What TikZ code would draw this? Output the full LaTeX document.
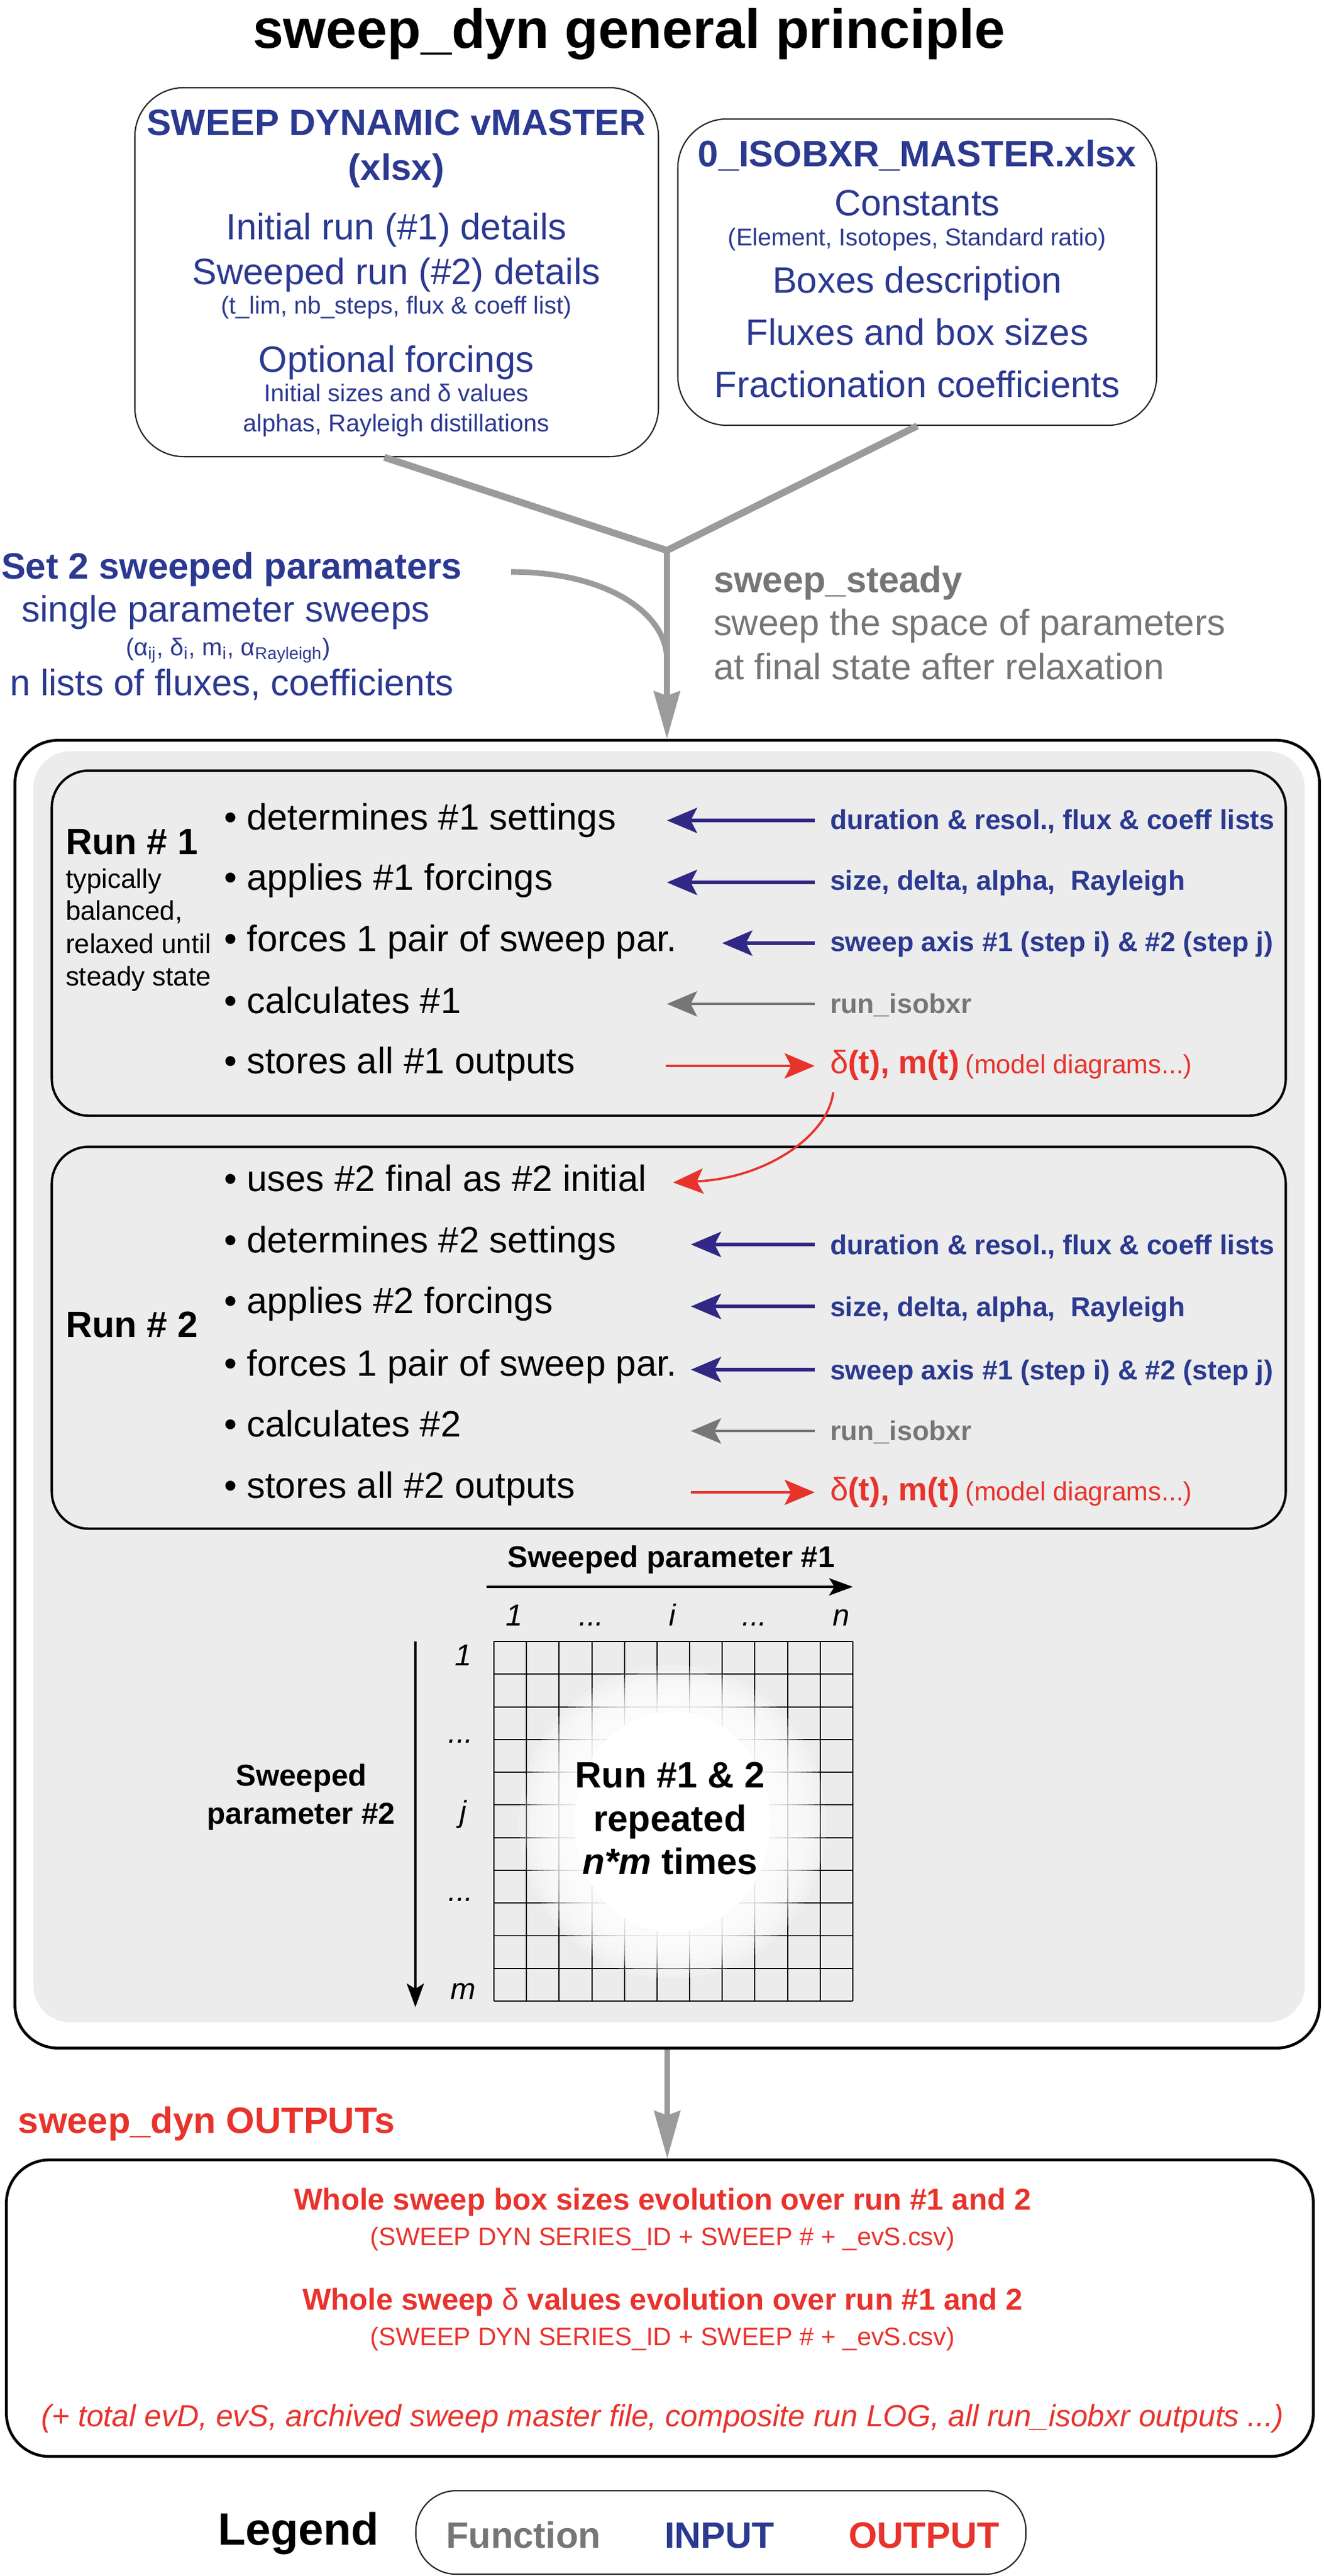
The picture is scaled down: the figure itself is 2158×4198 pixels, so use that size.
\documentclass[tikz,border=0pt]{standalone}
\usepackage{fontspec}
\setmainfont{Liberation Sans}
\usetikzlibrary{arrows.meta}
\definecolor{myblue}{RGB}{43,57,144}
\definecolor{arrblue}{RGB}{48,40,132}
\definecolor{myred}{RGB}{232,51,45}
\definecolor{fngray}{RGB}{118,118,118}
\definecolor{lngray}{RGB}{155,155,155}
\definecolor{bggray}{RGB}{236,236,236}
\newcommand\FTitle{\bfseries\fontsize{25.5}{30}\selectfont}
\newcommand\FBig{\fontsize{17}{20}\selectfont}
\newcommand\FBigB{\bfseries\fontsize{17}{20}\selectfont}
\newcommand\FSml{\fontsize{11.3}{13}\selectfont}
\newcommand\FLab{\bfseries\fontsize{12.7}{15}\selectfont}
\newcommand\FSide{\fontsize{12.5}{15}\selectfont}
\newcommand\FAxis{\bfseries\fontsize{14}{17}\selectfont}
\newcommand\FIdx{\itshape\fontsize{14}{17}\selectfont}
\newcommand\FOutB{\bfseries\fontsize{14}{17}\selectfont}
\newcommand\FOutS{\fontsize{11.8}{14}\selectfont}
\newcommand\FOutI{\itshape\fontsize{14.2}{17}\selectfont}
\newcommand\FLeg{\bfseries\fontsize{21}{25}\selectfont}
\newcommand\FDmt{\bfseries\fontsize{15}{18}\selectfont}
\newcommand\FMod{\fontsize{12.2}{15}\selectfont}
\begin{document}
\begin{tikzpicture}[x=0.01cm, y=-0.01cm,
  tx/.style={inner sep=0pt, outer sep=0pt, anchor=base},
  tw/.style={inner sep=0pt, outer sep=0pt, anchor=base west},
  inbox/.style={draw=black!85, line width=0.6pt, fill=white, rounded corners=0.8cm, inner sep=0pt},
  runbox/.style={draw=black, line width=1.1pt, rounded corners=0.6cm, inner sep=0pt},
  bigbox/.style={draw=black, line width=1.3pt, fill=white, rounded corners=0.7cm, inner sep=0pt},
  feed/.style={draw=lngray, line width=3.2pt},
  stem/.style={draw=lngray, line width=2.6pt},
  bigtip/.style={-{Stealth[length=22pt, width=12pt, inset=2pt]}},
  inarr/.style={draw=arrblue, line width=1.5pt, -{Stealth[length=14pt, width=11.7pt, inset=3pt]}},
  fnarr/.style={draw=fngray, line width=1.2pt, -{Stealth[length=14pt, width=11.7pt, inset=3pt]}},
  outarr/.style={draw=myred, line width=1.05pt, -{Stealth[length=14pt, width=11.7pt, inset=3pt]}},
  axarr/.style={draw=black, line width=0.9pt, -{Stealth[length=11pt, width=8pt, inset=2.5pt]}},
  gridl/.style={draw=black, line width=0.55pt},
]
\useasboundingbox (0,0) rectangle (2158,4198);
\fill[white] (0,0) rectangle (2158,4198);

% ---------- title
\node[tx, font=\FTitle] (title) at (1025,78) {sweep\_dyn general principle};

% ---------- input files
\node[inbox, minimum width=8.53cm, minimum height=6.01cm] (master) at (646.5,443.5) {};
\node[inbox, minimum width=7.8cm, minimum height=4.99cm] (iso) at (1495,443.5) {};

\node[tx, font=\FBigB, text=myblue] (m1) at (646,220) {SWEEP DYNAMIC vMASTER};
\node[tx, font=\FBigB, text=myblue] (m2) at (646,293) {(xlsx)};
\node[tx, font=\FBig, text=myblue] (m3) at (646,390) {Initial run (\#1) details};
\node[tx, font=\FBig, text=myblue] (m4) at (646,463) {Sweeped run (\#2) details};
\node[tx, font=\FSml, text=myblue] (m5) at (646,511) {(t\_lim, nb\_steps, flux \& coeff list)};
\node[tx, font=\FBig, text=myblue] (m6) at (646,606) {Optional forcings};
\node[tx, font=\FSml, text=myblue] (m7) at (646,654) {Initial sizes and δ values};
\node[tx, font=\FSml, text=myblue] (m8) at (646,703) {alphas, Rayleigh distillations};

\node[tx, font=\FBigB, text=myblue] (i1) at (1495,271) {0\_ISOBXR\_MASTER.xlsx};
\node[tx, font=\FBig, text=myblue] (i2) at (1495,351) {Constants};
\node[tx, font=\FSml, text=myblue] (i3) at (1495,400) {(Element, Isotopes, Standard ratio)};
\node[tx, font=\FBig, text=myblue] (i4) at (1495,477) {Boxes description};
\node[tx, font=\FBig, text=myblue] (i5) at (1495,562) {Fluxes and box sizes};
\node[tx, font=\FBig, text=myblue] (i6) at (1495,647) {Fractionation coefficients};

\coordinate (junc) at (1087,897);
\draw[feed] ([xshift=-0.2cm]master.south) -- (junc);
\draw[feed] (iso.south) -- (junc);

% ---------- sweep parameters
\node[tw, font=\FBigB, text=myblue] (set2) at (2,943) {Set 2 sweeped paramaters};
\node[tx, font=\FBig, text=myblue] (s2a) at (368,1013) {single parameter sweeps};
\node[tx, font=\FSml, text=myblue] (s2b) at (372,1068) {(α\textsubscript{ij}, δ\textsubscript{i}, m\textsubscript{i}, α\textsubscript{Rayleigh})};
\node[tx, font=\FBig, text=myblue] (s2c) at (378,1133) {n lists of fluxes, coefficients};

\node[tw, font=\FBigB, text=fngray] (ss1) at (1163,965) {sweep\_steady};
\node[tw, font=\FBig, text=fngray] (ss2) at (1163,1035) {sweep the space of parameters};
\node[tw, font=\FBig, text=fngray] (ss3) at (1163,1107) {at final state after relaxation};

% ---------- main box
\node[bigbox, minimum width=21.25cm, minimum height=21.3cm] (outer) at (1087.5,2272) {};
\node[fill=bggray, rounded corners=0.6cm, inner sep=0pt, minimum width=20.71cm, minimum height=20.7cm] (bg) at (1090.5,2260) {};
\node[runbox, minimum width=20.1cm, minimum height=5.62cm] (run1) at (1090,1537) {};
\node[runbox, minimum width=20.1cm, minimum height=6.22cm] (run2) at (1090,2180) {};

\coordinate (s2end) at (833,932);
\draw[stem] (s2end) .. controls (990,932) and (1087,1000) .. (1087,1075);
\draw[stem, bigtip] (junc) -- (junc |- outer.north);

% ---------- run 1
\node[tw, font=\FBigB] (r1) at (107,1392) {Run \# 1};
\node[tw, font=\FSide] (r1a) at (107,1447) {typically};
\node[tw, font=\FSide] (r1b) at (107,1499) {balanced,};
\node[tw, font=\FSide] (r1c) at (107,1553) {relaxed until};
\node[tw, font=\FSide] (r1d) at (107,1606) {steady state};

\node[tw, font=\FBig] (b11) at (365,1352) {• determines \#1 settings};
\node[tw, font=\FBig] (b12) at (365,1450) {• applies \#1 forcings};
\node[tw, font=\FBig] (b13) at (365,1550) {• forces 1 pair of sweep par.};
\node[tw, font=\FBig] (b14) at (365,1651) {• calculates \#1};
\node[tw, font=\FBig] (b15) at (365,1749) {• stores all \#1 outputs};

\node[tw, font=\FLab, text=myblue] (l11) at (1353,1351) {duration \& resol., flux \& coeff lists};
\node[tw, font=\FLab, text=myblue] (l12) at (1353,1450) {size, delta, alpha,\ \ Rayleigh};
\node[tw, font=\FLab, text=myblue] (l13) at (1353,1550) {sweep axis \#1 (step i) \& \#2 (step j)};
\node[tw, font=\FLab, text=fngray] (l14) at (1353,1651) {run\_isobxr};
\node[tw, text=myred] (l15) at (1353,1749) {{\FDmt\mdseries δ}{\FDmt (t), m(t)} {\FMod (model diagrams...)}};

\coordinate (a11t) at (1328,1337); \coordinate (a11h) at (1087,1337);
\coordinate (a12t) at (1328,1438); \coordinate (a12h) at (1087,1438);
\coordinate (a13t) at (1328,1537); \coordinate (a13h) at (1177,1537);
\coordinate (a14t) at (1328,1636); \coordinate (a14h) at (1087,1636);
\coordinate (a15t) at (1085,1737); \coordinate (a15h) at (1328,1737);
\draw[inarr] (a11t) -- (a11h);
\draw[inarr] (a12t) -- (a12h);
\draw[inarr] (a13t) -- (a13h);
\draw[fnarr] (a14t) -- (a14h);
\draw[outarr] (a15t) -- (a15h);

% ---------- run 2
\node[tw, font=\FBigB] (r2) at (107,2179) {Run \# 2};
\node[tw, font=\FBig] (b20) at (365,1941) {• uses \#2 final as \#2 initial};
\node[tw, font=\FBig] (b21) at (365,2041) {• determines \#2 settings};
\node[tw, font=\FBig] (b22) at (365,2140) {• applies \#2 forcings};
\node[tw, font=\FBig] (b23) at (365,2242) {• forces 1 pair of sweep par.};
\node[tw, font=\FBig] (b24) at (365,2341) {• calculates \#2};
\node[tw, font=\FBig] (b25) at (365,2441) {• stores all \#2 outputs};

\node[tw, font=\FLab, text=myblue] (l21) at (1353,2044) {duration \& resol., flux \& coeff lists};
\node[tw, font=\FLab, text=myblue] (l22) at (1353,2145) {size, delta, alpha,\ \ Rayleigh};
\node[tw, font=\FLab, text=myblue] (l23) at (1353,2248) {sweep axis \#1 (step i) \& \#2 (step j)};
\node[tw, font=\FLab, text=fngray] (l24) at (1353,2347) {run\_isobxr};
\node[tw, text=myred] (l25) at (1353,2445) {{\FDmt\mdseries δ}{\FDmt (t), m(t)} {\FMod (model diagrams...)}};

\coordinate (a21t) at (1328,2028); \coordinate (a21h) at (1126,2028);
\coordinate (a22t) at (1328,2129); \coordinate (a22h) at (1126,2129);
\coordinate (a23t) at (1328,2232); \coordinate (a23h) at (1126,2232);
\coordinate (a24t) at (1328,2332); \coordinate (a24h) at (1126,2332);
\coordinate (a25t) at (1126,2432); \coordinate (a25h) at (1328,2432);
\draw[inarr] (a21t) -- (a21h);
\draw[inarr] (a22t) -- (a22h);
\draw[inarr] (a23t) -- (a23h);
\draw[fnarr] (a24t) -- (a24h);
\draw[outarr] (a25t) -- (a25h);

% red link run1 -> run2
\coordinate (rc1) at (1358,1780); \coordinate (rc2) at (1097,1927);
\draw[outarr] (rc1) .. controls (1350,1850) and (1250,1920) .. (rc2);

% ---------- grid
\node[tx, font=\FAxis] (ax1) at (1094,2554) {Sweeped parameter \#1};
\coordinate (h1) at (793,2586); \coordinate (h2) at (1390,2586);
\draw[axarr] (h1) -- (h2);
\node[tx, font=\FIdx] (c1) at (838,2649) {1};
\node[tx, font=\FIdx] (c2) at (964,2649) {...};
\node[tx, font=\FIdx] (c3) at (1096,2649) {i};
\node[tx, font=\FIdx] (c4) at (1230,2649) {...};
\node[tx, font=\FIdx] (c5) at (1371,2649) {n};

\node[tx, font=\FAxis] (ax2a) at (491,2910) {Sweeped};
\node[tx, font=\FAxis] (ax2b) at (491,2972) {parameter \#2};
\coordinate (v1) at (677,2675); \coordinate (v2) at (677,3271);
\draw[axarr] (v1) -- (v2);
\node[tx, font=\FIdx] (rl1) at (755,2714) {1};
\node[tx, font=\FIdx] (rl2) at (751,2840) {...};
\node[tx, font=\FIdx] (rl3) at (755,2969) {j};
\node[tx, font=\FIdx] (rl4) at (751,3098) {...};
\node[tx, font=\FIdx] (rl5) at (755,3258) {m};

\foreach \i in {0,...,11} {
  \draw[gridl] ({805+53.18*\i},2675) -- ({805+53.18*\i},3261);
  \draw[gridl] (805,{2675+53.27*\i}) -- (1390,{2675+53.27*\i});
}
\fill[white] (1096,2969) ellipse [x radius=1.6cm, y radius=1.8cm];
\foreach \k in {1,...,10} {
  \fill[white, opacity=0.22] (1096,2969) ellipse [x radius={1.6cm+\k*0.09cm}, y radius={1.8cm+\k*0.075cm}];
}
\node[tx, font=\FBigB] (g1) at (1092,2913) {Run \#1 \& 2};
\node[tx, font=\FBigB] (g2) at (1092,2984) {repeated};
\node[tx, font=\FBigB] (g3) at (1092,3054) {\textit{n*m} times};

% ---------- outputs
\node[tw, font=\FBigB, text=myred] (outt) at (30,3476) {sweep\_dyn OUTPUTs};
\node[bigbox, minimum width=21.29cm, minimum height=4.83cm] (outbox) at (1075.5,3761.5) {};
\draw[stem, bigtip] (outer.south) -- (outer.south |- outbox.north);

\node[tx, font=\FOutB, text=myred] (o1) at (1080,3601) {Whole sweep box sizes evolution over run \#1 and 2};
\node[tx, font=\FOutS, text=myred] (o2) at (1080,3659) {(SWEEP DYN SERIES\_ID + SWEEP \# + \_evS.csv)};
\node[tx, font=\FOutB, text=myred] (o3) at (1080,3764) {Whole sweep {\mdseries δ} values evolution over run \#1 and 2};
\node[tx, font=\FOutS, text=myred] (o4) at (1080,3822) {(SWEEP DYN SERIES\_ID + SWEEP \# + \_evS.csv)};
\node[tx, font=\FOutI, text=myred] (o5) at (1080,3954) {(+ total evD, evS, archived sweep master file, composite run LOG, all run\_isobxr outputs ...)};

% ---------- legend
\node[tw, font=\FLeg] (leg) at (355,4147) {Legend};
\node[draw=black!85, line width=0.6pt, rounded corners=0.66cm, inner sep=0pt, minimum width=9.94cm, minimum height=1.36cm] (legbox) at (1175,4127) {};
\node[tw, font=\FBigB, text=fngray] (lf) at (727,4152) {Function};
\node[tw, font=\FBigB, text=myblue] (li) at (1083,4152) {INPUT};
\node[tw, font=\FBigB, text=myred] (lo) at (1383,4152) {OUTPUT};
\end{tikzpicture}
\end{document}
